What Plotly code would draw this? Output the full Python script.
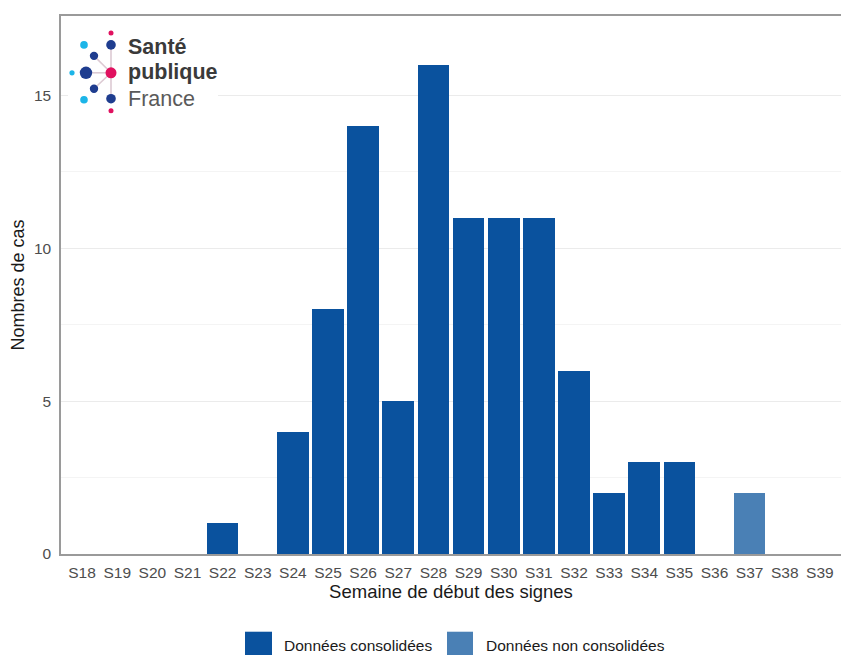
import plotly.graph_objects as go

weeks = ["S18", "S19", "S20", "S21", "S22", "S23", "S24", "S25", "S26", "S27", "S28",
         "S29", "S30", "S31", "S32", "S33", "S34", "S35", "S36", "S37", "S38", "S39"]
consolidees = [0, 0, 0, 0, 1, 0, 4, 8, 14, 5, 16, 11, 11, 11, 6, 2, 3, 3, 0, 0, 0, 0]
non_consolidees = [0, 0, 0, 0, 0, 0, 0, 0, 0, 0, 0, 0, 0, 0, 0, 0, 0, 0, 0, 2, 0, 0]
y_ticks = [0, 5, 10, 15]
legend_labels = ["Données consolidées", "Données non consolidées"]

C_DARK = "#0a529e"
C_LIGHT = "#4a80b5"

OFF = 8  # default page body margin
W, H = 849 - OFF, 655 - OFF
L, T = 61 - OFF, 14 - OFF
R = W - (841 - OFF)
B = H - (554 - OFF)
PW, PH = W - L - R, H - T - B


def px(x):
    return (x - OFF - L) / PW


def py(y):
    return (H - B - (y - OFF)) / PH


fig = go.Figure()
fig.add_trace(go.Bar(x=weeks, y=consolidees, marker=dict(color=C_DARK, line=dict(width=0)),
                     width=0.9, name=legend_labels[0], showlegend=False))
fig.add_trace(go.Bar(x=weeks, y=non_consolidees, marker=dict(color=C_LIGHT, line=dict(width=0)),
                     width=0.9, name=legend_labels[1], showlegend=False))

shapes = []
annotations = []

# logo background
shapes.append(dict(type="rect", xref="paper", yref="paper", x0=px(68), x1=px(218),
                   y0=py(118), y1=py(22), fillcolor="white", line=dict(width=0), layer="above"))

# logo lines from centre
cx, cy = 111, 71
for (ex, ey) in [(86, 71), (111, 43), (111, 97), (94, 54), (94, 87)]:
    shapes.append(dict(type="line", xref="paper", yref="paper", x0=px(cx), y0=py(cy),
                       x1=px(ex), y1=py(ey), line=dict(color="#dccad3", width=1.6), layer="above"))

dots = [
    (111, 31, 2.5, "#e0115f"),
    (111, 43, 4.8, "#1f3d8f"),
    (84, 43, 3.8, "#1cb5e8"),
    (94, 54, 4.2, "#1f3d8f"),
    (86, 71, 6.2, "#1f3d8f"),
    (72, 71, 2.6, "#1cb5e8"),
    (111, 71, 5.5, "#e0115f"),
    (94, 87, 4.2, "#1f3d8f"),
    (84, 98, 3.8, "#1cb5e8"),
    (111, 97, 4.8, "#1f3d8f"),
    (111, 109, 2.5, "#e0115f"),
]
for (dx, dy, r, c) in dots:
    shapes.append(dict(type="circle", xref="paper", yref="paper",
                       xsizemode="pixel", ysizemode="pixel",
                       xanchor=px(dx), yanchor=py(dy), x0=-r, x1=r, y0=-r, y1=r,
                       fillcolor=c, line=dict(width=0), layer="above"))

for (txt, ty, bold, col) in [("Santé", 45, True, "#3a3a3a"), ("publique", 70, True, "#3a3a3a"),
                             ("France", 97, False, "#5a5a5a")]:
    annotations.append(dict(xref="paper", yref="paper", x=px(126), y=py(ty), xanchor="left",
                            yanchor="middle", showarrow=False,
                            text=f"<b>{txt}</b>" if bold else txt,
                            font=dict(family="Liberation Sans", size=21.5, color=col)))

# manual legend
for (x0, x1, tx, lab, col) in [(245, 272, 282, legend_labels[0], C_DARK),
                               (447, 473, 484, legend_labels[1], C_LIGHT)]:
    shapes.append(dict(type="rect", xref="paper", yref="paper", x0=px(x0), x1=px(x1),
                       y0=py(660), y1=py(632), fillcolor=col, line=dict(width=0)))
    annotations.append(dict(xref="paper", yref="paper", x=px(tx), y=py(646), xanchor="left",
                            yanchor="middle", showarrow=False, text=lab,
                            font=dict(family="Liberation Sans", size=15.5, color="#1a1a1a")))

fig.update_layout(
    width=W, height=H,
    margin=dict(l=L, r=R, t=T, b=B),
    paper_bgcolor="white", plot_bgcolor="white",
    barmode="stack", bargap=0.1,
    font=dict(family="Liberation Sans", size=13, color="#4d4d4d"),
    shapes=shapes, annotations=annotations,
    showlegend=False,
)
fig.update_xaxes(
    type="category", range=[-0.6, 21.6], showgrid=False, zeroline=False,
    showline=True, mirror=True, linecolor="#9a9a9a", linewidth=1.5,
    ticks="", tickfont=dict(size=15.5, color="#4d4d4d"), ticklabelstandoff=4,
    title=dict(text="Semaine de début des signes", font=dict(size=18.5, color="#1a1a1a"), standoff=3),
)
fig.update_yaxes(
    range=[0, 17.6], tickvals=y_ticks, showgrid=True, gridcolor="#ebebeb", gridwidth=1,
    minor=dict(tickvals=[2.5, 7.5, 12.5], showgrid=True, gridcolor="#f4f4f4", gridwidth=1),
    zeroline=False, showline=True, mirror=True, linecolor="#9a9a9a", linewidth=1.5,
    ticks="", tickfont=dict(size=15.5, color="#4d4d4d"), ticklabelstandoff=5,
    title=dict(text="Nombres de cas", font=dict(size=18, color="#1a1a1a"), standoff=6),
)

fig.write_html("out.html")
